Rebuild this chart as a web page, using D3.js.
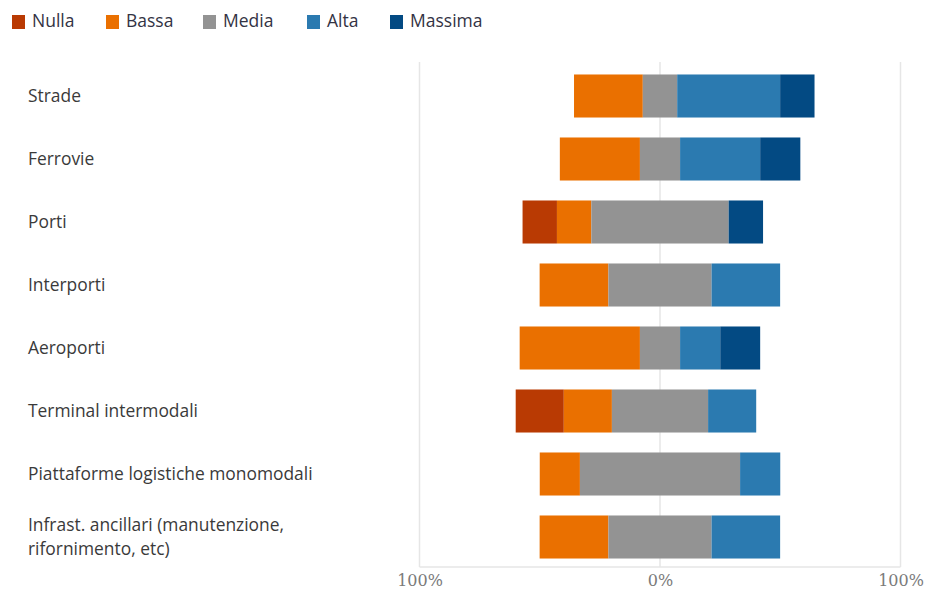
<!DOCTYPE html>
<html><head><meta charset="utf-8">
<script src="https://cdn.jsdelivr.net/npm/d3@7"></script>
<style>body{margin:0;background:#fff}svg{display:block}</style>
</head><body><svg id="c" width="927" height="590"></svg>
<script>
const categories = ["Strade","Ferrovie","Porti","Interporti","Aeroporti","Terminal intermodali","Piattaforme logistiche monomodali","Infrast. ancillari (manutenzione, rifornimento, etc)"];
const seriesNames = ["Nulla","Bassa","Media","Alta","Massima"];
const nulla   = [0,    0,    14.3, 0,    0,    20,   0,    0];
const bassa   = [28.6, 33.3, 14.3, 28.6, 50,   20,   16.7, 28.6];
const media   = [14.3, 16.7, 57.1, 42.9, 16.7, 40,   66.6, 42.9];
const alta    = [42.8, 33.3, 0,    28.5, 16.7, 20,   16.7, 28.5];
const massima = [14.3, 16.7, 14.3, 0,    16.6, 0,    0,    0];
const tickLabels = ["100%","0%","100%"];
const colors = ["#B93A03","#EA7000","#939393","#2B7AB0","#034A83"];

const svg = d3.select("#c");
const x = d3.scaleLinear().domain([-100,100]).range([419.5,900.5]);
const y = d3.scaleBand().domain(categories).range([64.5,568.5]).paddingInner(0.317).paddingOuter(0.1585);

// gridlines
svg.append("g").selectAll("line").data([-100,0,100]).join("line")
  .attr("x1",d=>x(d)).attr("x2",d=>x(d)).attr("y1",62).attr("y2",567)
  .attr("stroke","#e6e6e6").attr("stroke-width",1.5);
svg.append("line").attr("x1",x(-100)).attr("x2",x(100)).attr("y1",567).attr("y2",567)
  .attr("stroke","#e6e6e6").attr("stroke-width",1.5);

const vals = [nulla,bassa,media,alta,massima];
const bars = svg.append("g");
categories.forEach((c,i)=>{
  let start = -(nulla[i]+bassa[i]+media[i]/2);
  vals.forEach((arr,k)=>{
    const v = arr[i];
    if(v>0){
      bars.append("rect").attr("x",x(start)).attr("width",x(start+v)-x(start))
        .attr("y",y(c)).attr("height",y.bandwidth()).attr("fill",colors[k]);
    }
    start += v;
  });
});

// category labels
const lab = svg.append("g").attr("font-family","'Open Sans', sans-serif").attr("font-size",17.4).attr("fill","#3a3a3a");
const wrapped = {"Infrast. ancillari (manutenzione, rifornimento, etc)":["Infrast. ancillari (manutenzione,","rifornimento, etc)"]};
categories.forEach(c=>{
  const lines = wrapped[c]||[c];
  const cy = y(c)+y.bandwidth()/2;
  lines.forEach((l,j)=>{
    lab.append("text").attr("x",28).attr("y",cy - (lines.length-1)*12 + 24*j).attr("dy","0.35em").text(l);
  });
});

// axis tick labels
const axis = d3.axisBottom(x).tickValues([-100,0,100]).tickFormat((d,i)=>tickLabels[i]).tickSize(0).tickPadding(0);
const ag = svg.append("g").attr("transform","translate(0,573)").call(axis);
ag.select(".domain").remove();
ag.selectAll("text").attr("font-family","'DejaVu Serif', serif").attr("font-size",16).attr("fill","#7a7a7a").attr("dy","0.8em");

// legend
const legX = [12,106,203,307,390];
const leg = svg.append("g");
seriesNames.forEach((s,k)=>{
  leg.append("rect").attr("x",legX[k]).attr("y",15).attr("width",13).attr("height",14).attr("fill",colors[k]);
  leg.append("text").attr("x",legX[k]+20).attr("y",21).attr("dy","0.35em")
    .attr("font-family","'Open Sans', sans-serif").attr("font-size",17.5).attr("fill","#333344").text(s);
});
</script></body></html>
